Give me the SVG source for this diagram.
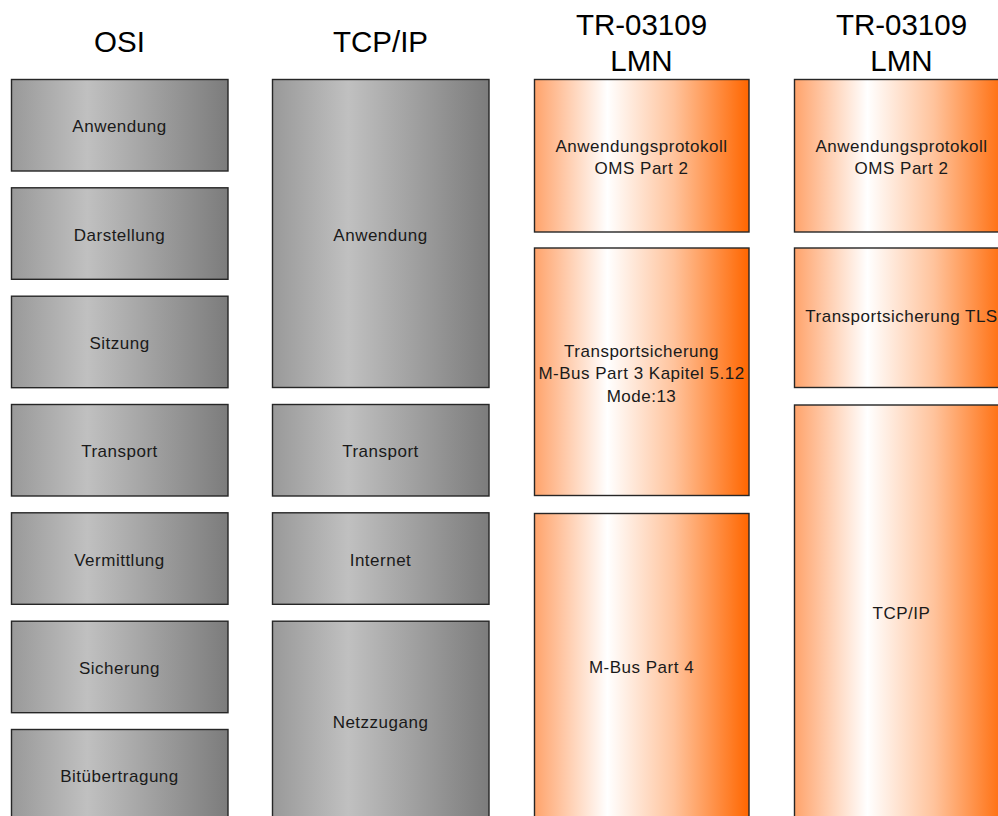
<svg xmlns="http://www.w3.org/2000/svg" width="998" height="816" viewBox="0 0 998 816">
  <defs>
    <linearGradient id="gray" x1="0" y1="0" x2="1" y2="0">
      <stop offset="0" stop-color="#999999"/>
      <stop offset="0.35" stop-color="#c0c0c0"/>
      <stop offset="1" stop-color="#7c7c7c"/>
    </linearGradient>
    <linearGradient id="orange" x1="0" y1="0" x2="1" y2="0">
      <stop offset="0" stop-color="#ffa36b"/>
      <stop offset="0.34" stop-color="#ffffff"/>
      <stop offset="0.65" stop-color="#ffc39c"/>
      <stop offset="1" stop-color="#ff6600"/>
    </linearGradient>
  </defs>
  <style>
    .head { font-family: "Liberation Sans", Arial, sans-serif; font-size: 29.5px; fill: #000; text-anchor: middle; }
    .lbl { font-family: "Liberation Sans", Arial, sans-serif; font-size: 17px; letter-spacing: 0.5px; fill: #1a1a1a; text-anchor: middle; }
    .g { fill: url(#gray); stroke: #262626; stroke-width: 1.4; }
    .o { fill: url(#orange); stroke: #262626; stroke-width: 1.4; }
  </style>
  <rect width="998" height="816" fill="#ffffff"/>

  <!-- column headings -->
  <g id="headings">
    <text class="head" x="119.5" y="52">OSI</text>
    <text class="head" x="380.5" y="52">TCP/IP</text>
    <text class="head" x="641.5" y="35">TR-03109</text>
    <text class="head" x="641.5" y="71">LMN</text>
    <text class="head" x="901.5" y="35">TR-03109</text>
    <text class="head" x="901.5" y="71">LMN</text>
  </g>

  <!-- OSI layers -->
  <g id="osi-anwendung"><rect class="g" x="11.5" y="79.5" width="216.5" height="91.5"/><text class="lbl" x="119.5" y="132">Anwendung</text></g>
  <g id="osi-darstellung"><rect class="g" x="11.5" y="187.8" width="216.5" height="91.5"/><text class="lbl" x="119.5" y="240.5">Darstellung</text></g>
  <g id="osi-sitzung"><rect class="g" x="11.5" y="296.2" width="216.5" height="91.5"/><text class="lbl" x="119.5" y="349">Sitzung</text></g>
  <g id="osi-transport"><rect class="g" x="11.5" y="404.5" width="216.5" height="91.5"/><text class="lbl" x="119.5" y="457.3">Transport</text></g>
  <g id="osi-vermittlung"><rect class="g" x="11.5" y="512.8" width="216.5" height="91.5"/><text class="lbl" x="119.5" y="565.6">Vermittlung</text></g>
  <g id="osi-sicherung"><rect class="g" x="11.5" y="621.2" width="216.5" height="91.5"/><text class="lbl" x="119.5" y="674">Sicherung</text></g>
  <g id="osi-bituebertragung"><rect class="g" x="11.5" y="729.5" width="216.5" height="91.5"/><text class="lbl" x="119.5" y="782.3">Bitübertragung</text></g>

  <!-- TCP/IP layers -->
  <g id="tcp-anwendung"><rect class="g" x="272.5" y="79.5" width="216.5" height="308"/><text class="lbl" x="380.5" y="240.5">Anwendung</text></g>
  <g id="tcp-transport"><rect class="g" x="272.5" y="404.5" width="216.5" height="91.5"/><text class="lbl" x="380.5" y="457.3">Transport</text></g>
  <g id="tcp-internet"><rect class="g" x="272.5" y="512.8" width="216.5" height="91.5"/><text class="lbl" x="380.5" y="565.6">Internet</text></g>
  <g id="tcp-netzzugang"><rect class="g" x="272.5" y="621.2" width="216.5" height="200"/><text class="lbl" x="380.5" y="728">Netzzugang</text></g>

  <!-- TR-03109 LMN, wireless M-Bus profile -->
  <g id="lmn1-anwendung"><rect class="o" x="534.5" y="79.5" width="214.5" height="152.5"/><text class="lbl" x="641.5" y="151.5">Anwendungsprotokoll</text><text class="lbl" x="641.5" y="174">OMS Part 2</text></g>
  <g id="lmn1-transport"><rect class="o" x="534.5" y="248" width="214.5" height="247.5"/><text class="lbl" x="641.5" y="356.5">Transportsicherung</text><text class="lbl" x="641.5" y="379">M-Bus Part 3 Kapitel 5.12</text><text class="lbl" x="641.5" y="401.5">Mode:13</text></g>
  <g id="lmn1-mbus"><rect class="o" x="534.5" y="513.5" width="214.5" height="306"/><text class="lbl" x="641.5" y="673">M-Bus Part 4</text></g>

  <!-- TR-03109 LMN, TCP/IP profile -->
  <g id="lmn2-anwendung"><rect class="o" x="794.5" y="79.5" width="214.5" height="152.5"/><text class="lbl" x="901.5" y="151.5">Anwendungsprotokoll</text><text class="lbl" x="901.5" y="174">OMS Part 2</text></g>
  <g id="lmn2-tls"><rect class="o" x="794.5" y="248" width="214.5" height="139.5"/><text class="lbl" x="901.5" y="322">Transportsicherung TLS</text></g>
  <g id="lmn2-tcpip"><rect class="o" x="794.5" y="405" width="214.5" height="414"/><text class="lbl" x="901.5" y="619">TCP/IP</text></g>

  <g id="connectors"/>
</svg>
